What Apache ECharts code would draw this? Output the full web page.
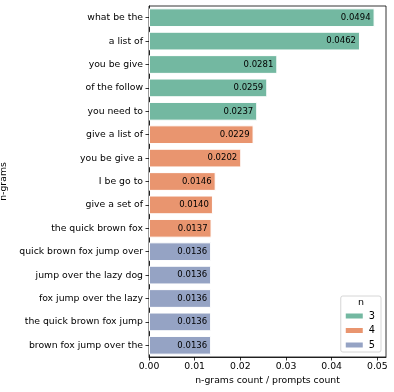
<!DOCTYPE html>
<html>
<head>
<meta charset="utf-8">
<script src="https://cdn.jsdelivr.net/npm/echarts@6/dist/echarts.min.js"></script>
<style>
	html, body { margin: 0; padding: 0; background: #fff; }
	#chart { width: 394px; height: 392px; }
</style>
</head>
<body>
<div id="chart"></div>
<script>
	// n-gram 数据
	var ngrams = ['what be the', 'a list of', 'you be give', 'of the follow', 'you need to',
		'give a list of', 'you be give a', 'I be go to', 'give a set of', 'the quick brown fox',
		'quick brown fox jump over', 'jump over the lazy dog', 'fox jump over the lazy',
		'the quick brown fox jump', 'brown fox jump over the'];
	var ratio = [0.0494, 0.0462, 0.0281, 0.0259, 0.0237,
		0.0229, 0.0202, 0.0146, 0.0140, 0.0137,
		0.0136, 0.0136, 0.0136, 0.0136, 0.0136];
	var nValue = [3, 3, 3, 3, 3, 4, 4, 4, 4, 4, 5, 5, 5, 5, 5];
	var nGroups = [3, 4, 5];
	var xTicks = [0, 0.01, 0.02, 0.03, 0.04, 0.05];

	var colors = {3: '#73b8a1', 4: '#e9956f', 5: '#95a3c4'};
	var font = 'DejaVu Sans';

	var series = [];
	for (var g = 0; g < nGroups.length; g++) {
		var n = nGroups[g];
		var data = [];
		for (var i = 0; i < ratio.length; i++) {
			data.push(nValue[i] == n ? ratio[i] : null);
		}
		series.push({
			name: String(n),
			type: 'bar',
			data: data,
			barGap: '-100%',
			barCategoryGap: '20%',
			itemStyle: {
				color: colors[n],
				borderColor: '#fff',
				borderWidth: 1
			},
			label: {
				show: true,
				position: 'insideRight',
				distance: 4,
				color: '#000',
				fontFamily: font,
				fontSize: 8.5,
				formatter: function(p) {
					return p.value == null ? '' : p.value.toFixed(4);
				}
			}
		});
	}

	var option = {
		animation: false,
		backgroundColor: '#fff',
		textStyle: { fontFamily: font },
		grid: {
			left: 149, right: 8, top: 6, bottom: 35,
			outerBoundsMode: 'none',
			containLabel: false,
			show: true,
			borderColor: '#000',
			borderWidth: 0.8
		},
		legend: {
			data: ['3', '4', '5'],
			orient: 'vertical',
			right: 13,
			bottom: 40,
			padding: [14, 6, 1, 3],
			itemWidth: 19,
			itemHeight: 7,
			itemGap: 2.5,
			borderColor: '#ccc',
			borderWidth: 0.8,
			borderRadius: 2,
			backgroundColor: 'rgba(255,255,255,0.8)',
			icon: 'rect',
			textStyle: { fontFamily: font, fontSize: 9.8, color: '#000', lineHeight: 12 }
		},
		graphic: [{
			type: 'text',
			left: 358,
			top: 298,
			z: 100,
			zlevel: 1,
			style: { text: 'n', fontFamily: font, fontSize: 9.5, fill: '#000' }
		}],
		xAxis: {
			type: 'value',
			min: 0,
			max: 0.0519,
			name: 'n-grams count / prompts count',
			nameLocation: 'middle',
			nameGap: 18,
			nameTextStyle: { fontFamily: font, fontSize: 9.3, color: '#000' },
			axisLine: { show: true, lineStyle: { color: '#000', width: 0.8 } },
			axisTick: { show: true, length: 3.5, customValues: xTicks, lineStyle: { color: '#000', width: 0.8 } },
			axisLabel: {
				customValues: xTicks,
				fontFamily: font, fontSize: 9.3, color: '#000', margin: 5,
				formatter: function(v) { return v.toFixed(2); }
			},
			splitLine: { show: false }
		},
		yAxis: {
			type: 'category',
			data: ngrams,
			inverse: true,
			name: 'n-grams',
			nameLocation: 'middle',
			nameGap: 129,
			nameTextStyle: { fontFamily: font, fontSize: 9.3, color: '#000' },
			axisLine: { show: true, lineStyle: { color: '#000', width: 0.8 } },
			axisTick: { show: true, alignWithLabel: true, length: 3.5, lineStyle: { color: '#000', width: 0.8 } },
			axisLabel: { fontFamily: font, fontSize: 9.3, color: '#000', margin: 6 }
		},
		series: series
	};

	echarts.init(document.getElementById('chart')).setOption(option);
</script>
</body>
</html>
